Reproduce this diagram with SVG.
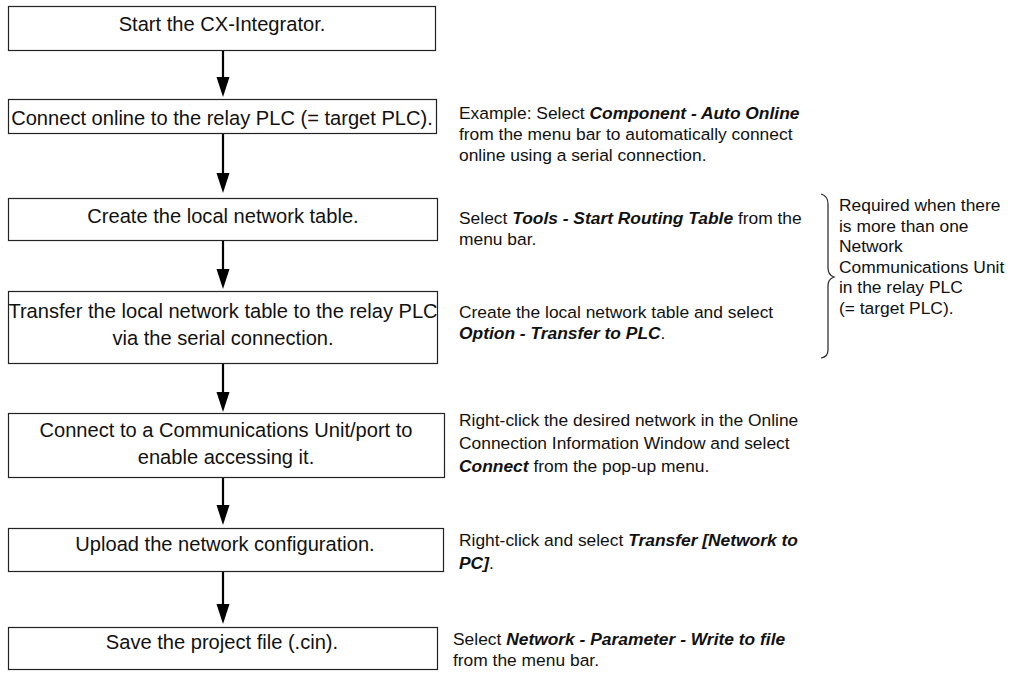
<svg xmlns="http://www.w3.org/2000/svg" width="1011" height="674" viewBox="0 0 1011 674">
<defs>
<style>
.box{fill:#fff;stroke:#222;stroke-width:1.2}
.bt{font-family:"Liberation Sans",Arial,sans-serif;font-size:20.1px;fill:#111;text-anchor:middle}
.rt{font-family:"Liberation Sans",Arial,sans-serif;font-size:17.4px;fill:#111}
.b{font-weight:bold;font-style:italic}
.con line{stroke:#000;stroke-width:2.2}
.con path{fill:#000}
</style>
</defs>
<rect width="1011" height="674" fill="#fff"/>
<g id="n1"><rect class="box" x="8.5" y="6.5" width="427" height="44"/><text class="bt" x="222" y="31">Start the CX-Integrator.</text></g>
<g id="n2"><rect class="box" x="8.5" y="99.5" width="428" height="34"/><text class="bt" x="222" y="125">Connect online to the relay PLC (= target PLC).</text></g>
<g id="n3"><rect class="box" x="8.5" y="198.5" width="429" height="42"/><text class="bt" x="223" y="223">Create the local network table.</text></g>
<g id="n4"><rect class="box" x="8.5" y="291.5" width="429" height="72"/><text class="bt" x="223" y="318">Transfer the local network table to the relay PLC</text><text class="bt" x="223" y="345">via the serial connection.</text></g>
<g id="n5"><rect class="box" x="8.5" y="413.5" width="436" height="64"/><text class="bt" x="226" y="437">Connect to a Communications Unit/port to</text><text class="bt" x="226" y="464">enable accessing it.</text></g>
<g id="n6"><rect class="box" x="8.5" y="528.5" width="435" height="43"/><text class="bt" x="225" y="551">Upload the network configuration.</text></g>
<g id="n7"><rect class="box" x="8.5" y="627.5" width="429" height="42"/><text class="bt" x="222" y="649">Save the project file (.cin).</text></g>
<g id="connectors" class="con">
<line x1="223" y1="51" x2="223" y2="80"/><path d="M216.5 77 L229.5 77 L223 97 Z"/>
<line x1="223" y1="134" x2="223" y2="176"/><path d="M216.5 173 L229.5 173 L223 193 Z"/>
<line x1="223" y1="241" x2="223" y2="272"/><path d="M216.5 269 L229.5 269 L223 289 Z"/>
<line x1="223" y1="364" x2="223" y2="395"/><path d="M216.5 392 L229.5 392 L223 412 Z"/>
<line x1="223" y1="478" x2="223" y2="508"/><path d="M216.5 505 L229.5 505 L223 525 Z"/>
<line x1="223" y1="572" x2="223" y2="607"/><path d="M216.5 604 L229.5 604 L223 624 Z"/>
</g>
<g id="notes">
<text class="rt" x="459" y="119">Example: Select <tspan class="b">Component - Auto Online</tspan></text>
<text class="rt" x="459" y="140">from the menu bar to automatically connect</text>
<text class="rt" x="459" y="161">online using a serial connection.</text>
<text class="rt" x="459" y="224">Select <tspan class="b">Tools - Start Routing Table</tspan> from the</text>
<text class="rt" x="459" y="245">menu bar.</text>
<text class="rt" x="459" y="318">Create the local network table and select</text>
<text class="rt" x="459" y="339"><tspan class="b">Option - Transfer to PLC</tspan>.</text>
<text class="rt" x="459" y="426">Right-click the desired network in the Online</text>
<text class="rt" x="459" y="449">Connection Information Window and select</text>
<text class="rt" x="459" y="472"><tspan class="b">Connect</tspan> from the pop-up menu.</text>
<text class="rt" x="459" y="546">Right-click and select <tspan class="b">Transfer [Network to</tspan></text>
<text class="rt" x="459" y="569"><tspan class="b">PC]</tspan>.</text>
<text class="rt" x="453" y="645">Select <tspan class="b">Network - Parameter - Write to file</tspan></text>
<text class="rt" x="453" y="666">from the menu bar.</text>
</g>
<g id="brace">
<path d="M821 194 Q828 196 828 204 L828 268 Q828 275 834 277 Q828 279 828 286 L828 350 Q828 357 821 358" fill="none" stroke="#222" stroke-width="1.2"/>
<text class="rt" x="839" y="211">Required when there</text>
<text class="rt" x="839" y="231.5">is more than one</text>
<text class="rt" x="839" y="252">Network</text>
<text class="rt" x="839" y="272.5">Communications Unit</text>
<text class="rt" x="839" y="293">in the relay PLC</text>
<text class="rt" x="839" y="313.5">(= target PLC).</text>
</g>
</svg>
